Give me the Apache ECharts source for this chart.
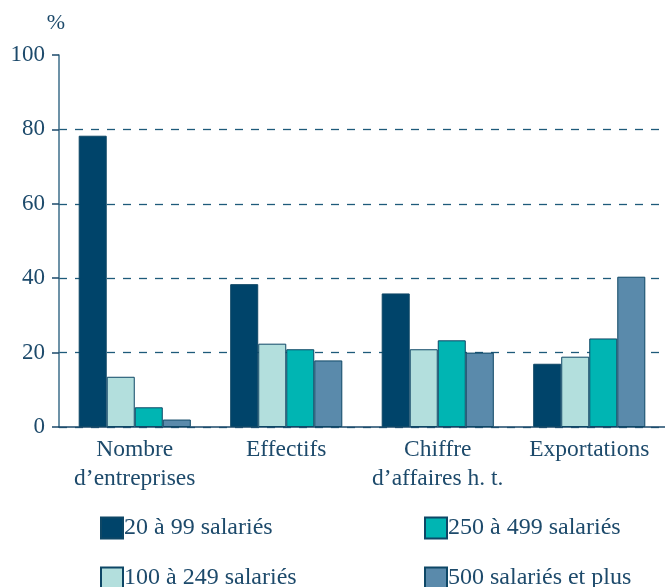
<!DOCTYPE html>
<html>
<head>
<meta charset="utf-8">
<script src="https://cdn.jsdelivr.net/npm/echarts@6/dist/echarts.min.js"></script>
<style>
  html, body { margin: 0; padding: 0; background: #fff; }
  #chart { width: 665px; height: 587px; }
</style>
</head>
<body>
<div id="chart"></div>
<script>
"use strict";

// catégories et valeurs
const categories = ['Nombre\nd\u2019entreprises', 'Effectifs', 'Chiffre\nd\u2019affaires h. t.', 'Exportations'];
const seriesNames = ['20 à 99 salariés', '100 à 249 salariés', '250 à 499 salariés', '500 salariés et plus'];
const s20a99 = [78.3, 38.4, 35.9, 17.0];
const s100a249 = [13.5, 22.4, 20.9, 18.9];
const s250a499 = [5.3, 20.9, 23.3, 23.8];
const s500plus = [2.0, 17.9, 20.0, 40.4];
const yTicks = [0, 20, 40, 60, 80, 100];

const colors = ['#00446a', '#b3dfdd', '#00b5b3', '#5a8aab'];
const textColor = '#1d4a6b';
const font = '"Liberation Serif", "DejaVu Serif", serif';

let chart = echarts.init(document.getElementById('chart'), null, { renderer: 'canvas' });

function makeSeries(name, data, color) {
  return {
    name: name,
    type: 'bar',
    data: data,
    barGap: '0%',
    barCategoryGap: '26%',
    itemStyle: { color: color, borderColor: '#0e4766', borderWidth: 1 },
    emphasis: { disabled: true }
  };
}

function makeLegend(name, left, top) {
  return {
    data: [name],
    left: left,
    top: top,
    padding: 0,
    itemWidth: 22,
    itemHeight: 21,
    itemGap: 0,
    icon: 'rect',
    selectedMode: false,
    textStyle: { fontFamily: font, fontSize: 24, color: textColor, padding: [0, 0, 0, -4] }
  };
}

chart.setOption({
  animation: false,
  color: colors,
  textStyle: { fontFamily: font },
  grid: { left: 59, right: 0, top: 55, bottom: 160 },
  legend: [
    makeLegend(seriesNames[0], 100, 516),
    makeLegend(seriesNames[2], 424, 516),
    makeLegend(seriesNames[1], 100, 566),
    makeLegend(seriesNames[3], 424, 566)
  ],
  xAxis: {
    type: 'category',
    data: categories,
    axisLine: { lineStyle: { color: textColor, width: 1.5 } },
    axisTick: { length: 5, lineStyle: { color: '#5a8aab', width: 1.5 } },
    axisLabel: {
      interval: 0,
      color: textColor, fontFamily: font, fontSize: 23.5,
      lineHeight: 29, margin: 8
    }
  },
  yAxis: {
    type: 'value',
    min: 0,
    max: 100,
    interval: 20,
    name: '%',
    nameLocation: 'end',
    nameGap: 32,
    nameTextStyle: { color: textColor, fontFamily: font, fontSize: 22, verticalAlign: 'middle', padding: [0, 6, 0, 0] },
    axisLine: { show: true, lineStyle: { color: '#3d6e8a', width: 1.5 } },
    axisTick: { show: true, length: 7, lineStyle: { color: textColor, width: 1.5 } },
    axisLabel: {
      color: textColor, fontFamily: font, fontSize: 23, margin: 14,
      formatter: function (v) { return yTicks.indexOf(v) >= 0 ? String(v) : ''; }
    },
    splitLine: {
      show: true,
      showMaxLine: false,
      lineStyle: { color: '#1e5a7a', type: [8, 8], width: 1.3 }
    }
  },
  series: [
    makeSeries(seriesNames[0], s20a99, colors[0]),
    makeSeries(seriesNames[1], s100a249, colors[1]),
    makeSeries(seriesNames[2], s250a499, colors[2]),
    makeSeries(seriesNames[3], s500plus, colors[3])
  ]
});
</script>
</body>
</html>
